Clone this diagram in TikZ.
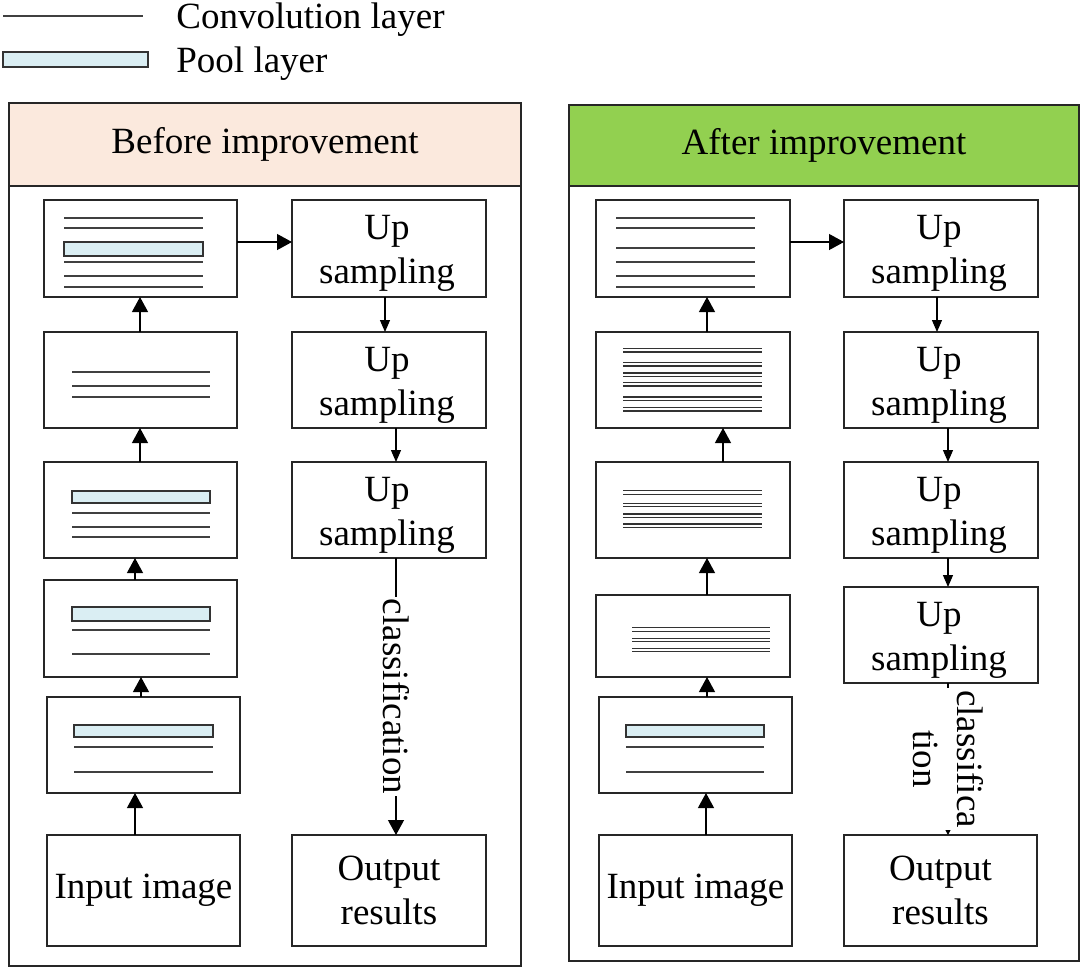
\documentclass[tikz,border=0pt]{standalone}
\usepackage{fontspec}
\setmainfont{Liberation Serif}
\usetikzlibrary{arrows.meta}
\definecolor{poolblue}{HTML}{DAEEF3}
\definecolor{peach}{HTML}{FBE9DD}
\definecolor{hgreen}{HTML}{92D050}
\tikzset{
 box/.style={draw=black!85, line width=0.75pt, inner sep=0pt, outer sep=0pt, align=center, font=\fontsize{18.5}{22}\selectfont},
 conv/.style={draw=black!75, line width=0.75pt},
 dconv/.style={draw=black!80, line width=0.65pt},
 pool/.style={draw=black!80, fill=poolblue, line width=0.75pt},
 bigarr/.style={-{Triangle[length=7.5pt,width=8pt]}, line width=0.6pt},
 smallarr/.style={-{Triangle[length=6pt,width=5pt]}, line width=0.6pt},
 tinyarr/.style={-{Triangle[length=3pt,width=3pt]}, line width=0.6pt},
 lbl/.style={font=\fontsize{18.5}{22}\selectfont, inner sep=0pt},
 panel/.style={draw=black!85, line width=0.75pt},
}
\newcommand{\mkbox}[6]{\node[box, minimum width={(#4-#2)*0.5pt}, minimum height={(#5-#3)*0.5pt}] (#1) at ({(#2+#4)/2},{(#3+#5)/2}) {#6};}
\newcommand{\uptext}[1]{\node[lbl, align=center] (#1t) at ([xshift=-1pt,yshift=-2.5pt]#1.center) {Up\\sampling};}
\begin{document}
\begin{tikzpicture}[x=0.5pt,y=-0.5pt]
\useasboundingbox (0,0) rectangle (1084,971);
% legend
\coordinate (lg1) at (3,16);
\coordinate (lg2) at (143,16);
\draw[conv] (lg1) -- (lg2);
\node[lbl, anchor=base west] (lgconv) at (176,28) {Convolution layer};
\draw[pool] (3,52) rectangle (148,67);
\node[lbl, anchor=base west] (lgpool) at (176,72) {Pool layer};
% panels
\draw[panel] (9,103) rectangle (521,966);
\node[box, fill=peach, minimum width={512*0.5pt}, minimum height={83*0.5pt}] (hdrL) at (265,144.5) {Before improvement};
\draw[panel] (569,105) rectangle (1079,961);
\node[box, fill=hgreen, minimum width={510*0.5pt}, minimum height={81*0.5pt}] (hdrR) at (824,145.5) {After improvement};
% left panel boxes
\mkbox{L1}{44}{200}{237}{297}{}
\mkbox{L2}{44}{332}{237}{428}{}
\mkbox{L3}{44}{462}{237}{558}{}
\mkbox{L4}{44}{580}{237}{677}{}
\mkbox{L5}{47}{697}{240}{793}{}
\mkbox{Lin}{47}{835}{240}{946}{Input image}
\mkbox{LU1}{292}{200}{486}{297}{}
\mkbox{LU2}{292}{332}{486}{428}{}
\mkbox{LU3}{292}{462}{486}{558}{}
\mkbox{Lout}{292}{835}{486}{946}{Output\\results}
\uptext{LU1}
\uptext{LU2}
\uptext{LU3}
% right panel boxes
\mkbox{R1}{596}{200}{790}{297}{}
\mkbox{R2}{596}{332}{790}{428}{}
\mkbox{R3}{596}{462}{790}{558}{}
\mkbox{R4}{596}{595}{790}{677}{}
\mkbox{R5}{599}{697}{792}{793}{}
\mkbox{Rin}{599}{835}{792}{946}{Input image}
\mkbox{RU1}{844}{200}{1038}{297}{}
\mkbox{RU2}{844}{332}{1038}{428}{}
\mkbox{RU3}{844}{462}{1038}{558}{}
\mkbox{RU4}{844}{587}{1038}{683}{}
\mkbox{Rout}{844}{835}{1037}{946}{Output\\results}
\uptext{RU1}
\uptext{RU2}
\uptext{RU3}
\uptext{RU4}
% left inner layers
\foreach \y in {218,228,262,276,287} \draw[conv] (64,\y) -- (203,\y);
\draw[pool] (64,242) rectangle (203,256);
\foreach \y in {372,386,397} \draw[conv] (72,\y) -- (210,\y);
\draw[pool] (72,491) rectangle (210,503);
\foreach \y in {513,527,537} \draw[conv] (72,\y) -- (210,\y);
\draw[pool] (72,607) rectangle (210,621);
\foreach \y in {630,654} \draw[conv] (72,\y) -- (210,\y);
\draw[pool] (74,725) rectangle (213,737);
\foreach \y in {747,772} \draw[conv] (74,\y) -- (213,\y);
% right inner layers
\foreach \y in {218,228,248,262,276,287} \draw[conv] (616,\y) -- (755,\y);
\foreach \y in {348.5,362.5,373,382.5,397,407.5} {\draw[dconv] (623,\y) -- (762,\y); \draw[dconv] (623,\y+3.5) -- (762,\y+3.5);}
\foreach \y in {490.7,503.3,514,524} {\draw[dconv] (623,\y) -- (762,\y); \draw[dconv] (623,\y+3.5) -- (762,\y+3.5);}
\foreach \y in {627.7,638.3,648.3} {\draw[dconv] (632,\y) -- (770,\y); \draw[dconv] (632,\y+3.5) -- (770,\y+3.5);}
\draw[pool] (626,725) rectangle (764,737);
\foreach \y in {747,772} \draw[conv] (626,\y) -- (764,\y);
% left arrows
\draw[bigarr] (L2.north -| 140,0) -- (L1.south -| 140,0);
\draw[bigarr] (L3.north -| 140,0) -- (L2.south -| 140,0);
\draw[bigarr] (L4.north -| 135,0) -- (L3.south -| 135,0);
\draw[bigarr] (L5.north -| 141,0) -- (L4.south -| 141,0);
\draw[bigarr] (Lin.north -| 135,0) -- (L5.south -| 135,0);
\draw[bigarr] (L1.east |- 0,242) -- (LU1.west |- 0,242);
\draw[smallarr] (LU1.south -| 385,0) -- (LU2.north -| 385,0);
\draw[smallarr] (LU2.south -| 396,0) -- (LU3.north -| 396,0);
\draw[bigarr] (LU3.south -| 396,0) -- node[lbl, fill=white, rotate=-90, inner xsep=1pt] (clsL) {classification} (Lout.north -| 396,0);
% right arrows
\draw[bigarr] (R2.north -| 707,0) -- (R1.south -| 707,0);
\draw[bigarr] (R3.north -| 723,0) -- (R2.south -| 723,0);
\draw[bigarr] (R4.north -| 707,0) -- (R3.south -| 707,0);
\draw[bigarr] (R5.north -| 707,0) -- (R4.south -| 707,0);
\draw[bigarr] (Rin.north -| 706,0) -- (R5.south -| 706,0);
\draw[bigarr] (R1.east |- 0,242) -- (RU1.west |- 0,242);
\draw[smallarr] (RU1.south -| 937,0) -- (RU2.north -| 937,0);
\draw[smallarr] (RU2.south -| 948,0) -- (RU3.north -| 948,0);
\draw[smallarr] (RU3.south -| 948,0) -- (RU4.north -| 948,0);
\draw[tinyarr] (RU4.south -| 948,0) -- node[lbl, fill=white, rotate=-90, align=center, inner xsep=1pt] (clsR) {classifica\\tion} (Rout.north -| 948,0);
\end{tikzpicture}
\end{document}
